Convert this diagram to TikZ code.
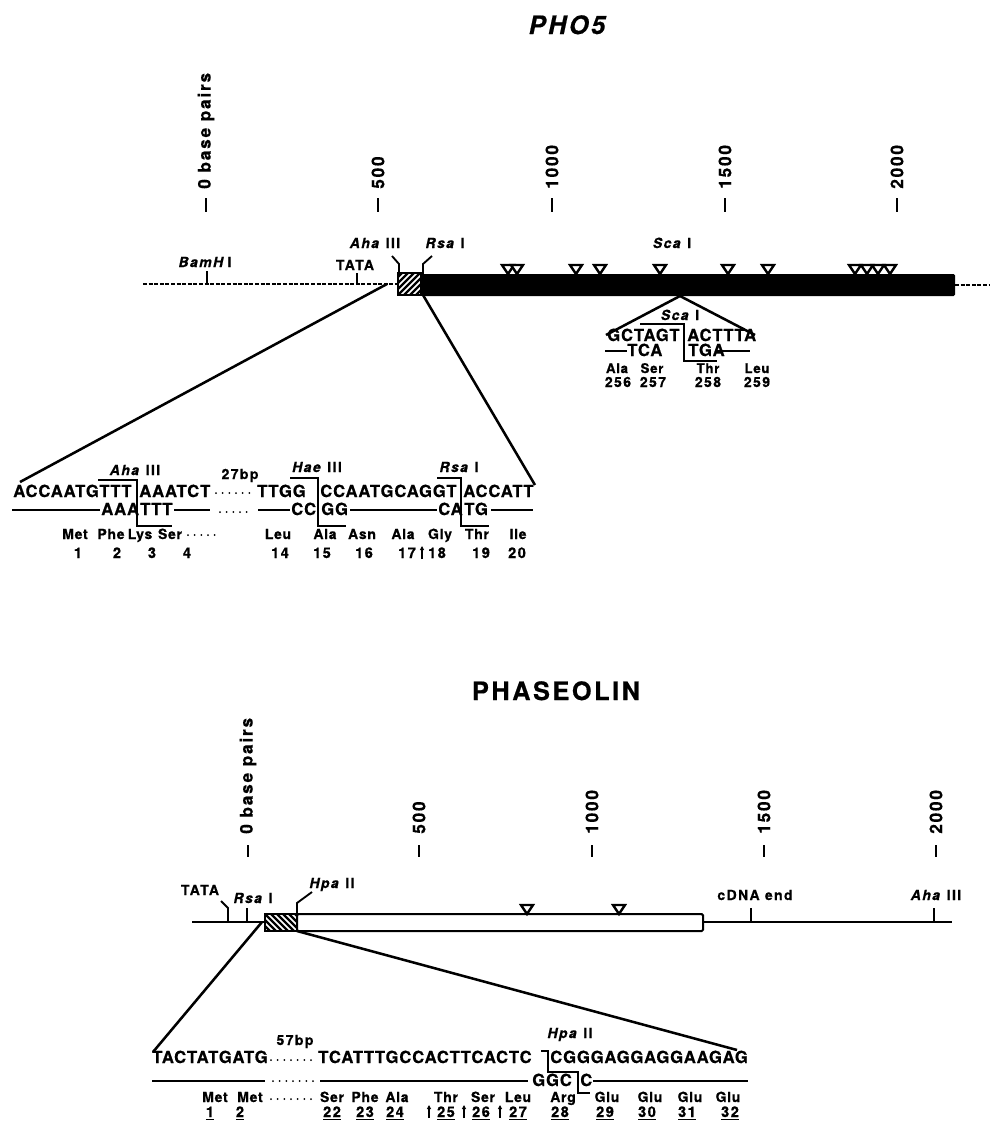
\documentclass[tikz,border=0pt]{standalone}
\usepackage{fontspec}
\setmainfont{TeX Gyre Heros}
\newfontfamily\fseq{TeX Gyre Heros}[LetterSpace=5,BoldFeatures={FakeBold=0.5},BoldItalicFeatures={FakeBold=0.5}]
\newfontfamily\fwid{TeX Gyre Heros}[LetterSpace=10,BoldFeatures={FakeBold=0.5},BoldItalicFeatures={FakeBold=0.5}]
\usetikzlibrary{arrows.meta}
\newcommand\tri[2]{\draw[trist] ({#1-6},{#2-9}) -- ({#1+6},{#2-9}) -- (#1,#2) -- cycle;}
\begin{document}
\begin{tikzpicture}[x=0.75pt,y=-0.75pt,
  seq/.style={inner sep=0pt,font=\fseq\bfseries\fontsize{12.5}{14}\selectfont,anchor=base west},
  aa/.style={inner sep=0pt,font=\fseq\bfseries\fontsize{10.5}{12}\selectfont,anchor=base},
  num/.style={inner sep=0pt,font=\fwid\bfseries\fontsize{11}{13}\selectfont,anchor=base},
  lab/.style={inner sep=0pt,font=\fwid\bfseries\fontsize{10.5}{12}\selectfont,anchor=base},
  ticklab/.style={inner sep=0pt,font=\fwid\bfseries\fontsize{13}{15}\selectfont,anchor=west,rotate=90},
  titlest/.style={inner sep=0pt,font=\fwid\bfseries\fontsize{19}{22}\selectfont,anchor=base},
  tickst/.style={line width=2.2pt},
  mapline/.style={line width=1.2pt},
  dashline/.style={line width=1.1pt,dash pattern=on 3pt off 1.2pt},
  expand/.style={line width=1.9pt},
  strand/.style={line width=1.4pt},
  brk/.style={line width=1.4pt,line join=miter},
  leader/.style={line width=1.4pt,line join=miter},
  dotl/.style={line width=1.5pt,dash pattern=on 0pt off 5pt,line cap=round},
  trist/.style={line width=1.8pt,line join=miter,fill=white},
  hatch/.style={line width=1.8pt},
  boxst/.style={line width=1.5pt},
  uparr/.style={line width=0.8pt,-{Triangle[length=3pt,width=3pt]}}]
\useasboundingbox[fill=white] (0,0) rectangle (990,1133);

%================ PHO5 =================
\node[titlest] (t1) at (567,34) {\itshape PHO5};

\foreach \xx/\lb [count=\i] in {206/0 base pairs,378/500,552/1000,725/1500,897/2000}{
  \draw[tickst] (\xx,198) -- (\xx,212);
  \node[ticklab] (pa\i) at (\xx,189) {\lb};
}

% map
\coordinate (pl) at (143,284);
\coordinate (pr) at (990,285);
\draw[dashline] (pl) -- (398,284);
\draw[dashline] (955,285) -- (pr);
\fill[rounded corners=1pt] (421,274) rectangle (955,296);
\begin{scope}
  \clip (398,273) rectangle (421,295);
  \foreach \k in {-30,-24,...,30} \draw[hatch] ({398+\k},295) -- ({420+\k},273);
\end{scope}
\draw[boxst] (398,273) rectangle (421,295);
\coordinate (hbl) at (387,284);
\coordinate (hbr) at (423,295);

\draw[mapline] (207,271) -- (207,284);
\draw[mapline] (357,273) -- (357,284);
\node[lab] (bam) at (205,267) {\textit{BamH}\,I};
\node[lab] (tata1) at (355,270) {TATA};
\node[lab] (aha1) at (375,248) {\textit{Aha} III};
\node[lab] (rsa1) at (445,248) {\textit{Rsa} I};
\node[lab] (sca1) at (672,248) {\textit{Sca} I};
\draw[leader] (392,256) -- (399,264) -- (399,273);
\draw[leader] (432,256) -- (423,264) -- (423,274);

\foreach \tx in {508,517,576,600,660,728,768,855,867,878,890} {\tri{\tx}{274}}

% Sca I detail
\coordinate (sapex) at (680,296);
\coordinate (sl) at (606,335);
\coordinate (sr) at (755,335);
\draw[expand] (sl) -- (sapex) -- (sr);
\node[lab] (sca2) at (680,320) {\textit{Sca} I};
\node[seq] (s1) at (607,341) {GCTAGT};
\node[seq] (s2) at (687,341) {ACTTTA};
\draw[strand] (605,351) -- (627,351);
\node[seq] (s3) at (627,356) {TCA};
\node[seq] (s4) at (688,356) {TGA};
\draw[strand] (717,351) -- (750,351);
\draw[brk] (640,324) -- (684,324) -- (684,361) -- (717,361);
\foreach \xx/\w [count=\i] in {617/Ala,652/Ser,708/Thr,757/Leu}{\node[aa,font=\fseq\bfseries\fontsize{10}{12}\selectfont] (sa\i) at (\xx,373) {\w};}
\foreach \xx/\w [count=\i] in {618/256,653/257,708/258,757/259}{\node[num,font=\fwid\bfseries\fontsize{10.5}{12}\selectfont] (sn\i) at (\xx,387) {\w};}

% PHO5 sequence
\coordinate (q1) at (20,482);
\coordinate (q2) at (535,485);
\draw[expand] (hbl) -- (q1);
\draw[expand] (hbr) -- (q2);
\node[lab] (aha2) at (135,475) {\textit{Aha} III};
\node[lab] (bp27) at (240,479) {27bp};
\node[lab] (hae) at (317,472) {\textit{Hae} III};
\node[lab] (rsa2) at (459,472) {\textit{Rsa} I};

\node[seq] (r1a) at (13,497) {ACCAATGTTT};
\node[seq] (r1b) at (139,497) {AAATCT};
\draw[dotl] (216,493) -- (253,493);
\node[seq] (r1c) at (257,497) {TTGG};
\node[seq] (r1d) at (320,497) {CCAATGCAGGT};
\node[seq] (r1e) at (463,497) {ACCATT};

\draw[strand] (12,510) -- (100,510);
\node[seq] (r2a) at (101,515) {AAA};
\node[seq] (r2b) at (140,515) {TTT};
\draw[strand] (174,510) -- (210,510);
\draw[dotl] (220,512) -- (253,512);
\draw[strand] (258,510) -- (290,510);
\node[seq] (r2c) at (291,515) {CC};
\node[seq] (r2d) at (321,515) {GG};
\draw[strand] (350,510) -- (437,510);
\node[seq] (r2e) at (438,515) {CA};
\node[seq] (r2f) at (464,515) {TG};
\draw[strand] (491,510) -- (533,510);

\draw[brk] (98,480) -- (137,480) -- (137,526) -- (172,526);
\draw[brk] (290,478) -- (318,478) -- (318,526) -- (346,526);
\draw[brk] (437,478) -- (461,478) -- (461,526) -- (489,526);

\foreach \xx/\w [count=\i] in {75/Met,111/Phe,140/Lys,170/Ser,278/Leu,325/Ala,362/Asn,403/Ala,440/Gly,477/Thr,518/Ile}{\node[aa] (pa\i) at (\xx,539) {\w};}
\draw[dotl] (188,535) -- (220,535);
\foreach \xx/\w [count=\i] in {78/1,117/2,152/3,187/4,280/14,322/15,364/16,407/17,437/18,481/19,517/20}{\node[num] (pn\i) at (\xx,558) {\w};}
\draw[uparr] (422,559) -- (422,546);

%================ PHASEOLIN =================
\node[titlest] (t2) at (556,700) {PHASEOLIN};

\foreach \xx/\lb [count=\i] in {248/0 base pairs,419/500,592/1000,764/1500,936/2000}{
  \draw[tickst] (\xx,845) -- (\xx,857);
  \node[ticklab] (fa\i) at (\xx,834) {\lb};
}

\coordinate (fl) at (192,922);
\coordinate (fr) at (952,922);
\draw[mapline] (fl) -- (265,922);
\draw[mapline] (703,922) -- (fr);
\draw[boxst,fill=white,rounded corners=1pt] (297,914) rectangle (703,931);
\begin{scope}
  \clip (265,914) rectangle (297,931);
  \foreach \k in {-24,-18,...,36} \draw[hatch] ({265+\k},914) -- ({282+\k},931);
\end{scope}
\draw[boxst] (265,914) rectangle (297,931);

\node[lab] (tata2) at (200,895) {TATA};
\draw[leader] (221,901) -- (228,908) -- (228,922);
\node[lab] (rsa3) at (253,903) {\textit{Rsa} I};
\draw[mapline] (247,908) -- (247,922);
\node[lab] (hpa1) at (332,888) {\textit{Hpa} II};
\draw[leader] (312,892) -- (297,903) -- (297,914);
\node[lab] (cdna) at (755,900) {cDNA end};
\draw[mapline] (751,908) -- (751,922);
\node[lab] (aha3) at (936,900) {\textit{Aha} III};
\draw[mapline] (934,908) -- (934,922);

\tri{527}{914}
\tri{619}{914}

\coordinate (fbl) at (262,922);
\coordinate (fbr) at (297,931);
\coordinate (g1) at (153,1052);
\coordinate (g2) at (737,1050);
\draw[expand] (fbl) -- (g1);
\draw[expand] (fbr) -- (g2);

\node[lab] (bp57) at (295,1045) {57bp};
\node[lab] (hpa2) at (570,1038) {\textit{Hpa} II};

\node[seq] (f1a) at (152,1063) {TACTATGATG};
\draw[dotl] (271,1060) -- (315,1060);
\node[seq] (f1b) at (318,1063) {TCATTTGCCACTTCACTC};
\node[seq] (f1c) at (550,1063) {CGGGAGGAGGAAGAG};

\draw[strand] (152,1081) -- (265,1081);
\draw[dotl] (273,1081) -- (315,1081);
\draw[strand] (320,1081) -- (528,1081);
\node[seq] (f2a) at (532,1086) {GGC};
\node[seq] (f2b) at (580,1086) {C};
\draw[strand] (593,1081) -- (748,1081);

\draw[brk] (541,1051) -- (548,1051) -- (548,1072) -- (578,1072) -- (578,1093) -- (590,1093);

\foreach \xx/\w [count=\i] in {215/Met,250/Met,332/Ser,365/Phe,397/Ala,446/Thr,483/Ser,518/Leu,563/Arg,607/Glu,650/Glu,690/Glu,728/Glu}{\node[aa] (fa\i) at (\xx,1102) {\w};}
\draw[dotl] (271,1099) -- (315,1099);
\foreach \xx/\w [count=\i] in {210/1,240/2,332/22,365/23,395/24,446/25,481/26,518/27,560/28,605/29,647/30,687/31,730/32}{\node[num] (fn\i) at (\xx,1117) {\underline{\w}};}
\draw[uparr] (429,1118) -- (429,1105);
\draw[uparr] (464,1118) -- (464,1105);
\draw[uparr] (500,1118) -- (500,1105);
\end{tikzpicture}
\end{document}
